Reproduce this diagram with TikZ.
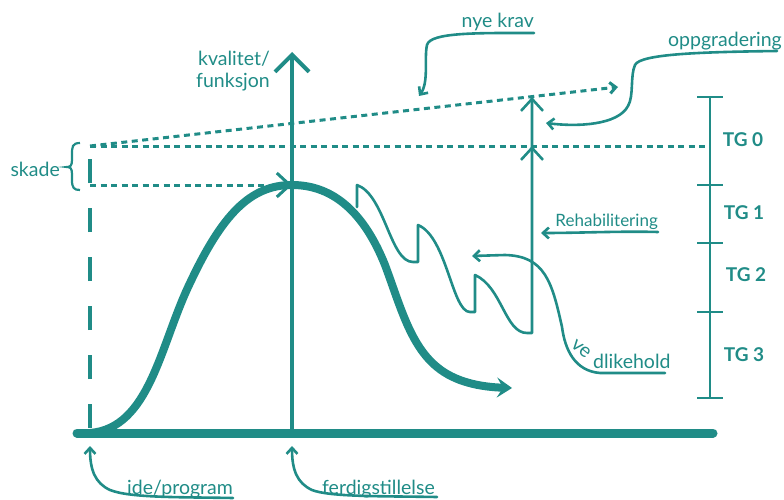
\documentclass[tikz,border=0pt]{standalone}
\usepackage{fontspec}
\setmainfont{Lato}
\usetikzlibrary{arrows.meta}
\definecolor{teal}{RGB}{32,140,135}
\tikzset{
  lbl/.style={text=teal, font=\fontsize{19.5}{22}\selectfont, inner sep=0pt},
  tglbl/.style={text=teal, font=\fontsize{19}{22}\selectfont\bfseries, inner sep=0pt},
  thin/.style={draw=teal, line width=2.6pt, line cap=round, line join=round},
  dots/.style={draw=teal, line width=3pt, dash pattern=on 6pt off 4.5pt},
  smallbarb/.style={-{Straight Barb[length=6pt,width=11pt]}},
}
\begin{document}
\begin{tikzpicture}[x=1pt,y=-1pt]
\useasboundingbox (0,0) rectangle (784,500);

% key points
\coordinate (origin) at (90,433);
\coordinate (peak) at (292,185);
\coordinate (damage) at (90,146);
\coordinate (top) at (532,97);
\coordinate (mid) at (532,146);

% time axis and quality axis
\draw[teal, line width=9pt, line cap=round] (77,433) -- (713,433);
\draw[teal, line width=4pt, -{Straight Barb[length=17pt,width=34pt]}] (292,433) -- (292,52);

% dashed start line
\draw[teal, line width=4.5pt, dash pattern=on 24pt off 25pt, dash phase=-5pt] (origin) -- (90,135);

% dotted reference lines
\draw[dots] (damage) -- (710,146);
\draw[dots, -{Straight Barb[length=6pt,width=11pt]}] (damage) -- (618,87);
\draw[dots, -{Straight Barb[length=13pt,width=24pt]}] (90,185) -- (peak);

% skade brace
\draw[teal, line width=2.2pt] (80,143) .. controls (72,143) and (72,147) .. (72,155)
  -- (72,160) .. controls (72,166) and (70,167) .. (67,167)
  .. controls (70,167) and (72,168) .. (72,174) -- (72,180)
  .. controls (72,188) and (74,190) .. (80,190);
\node[lbl, anchor=east] (skade) at (60,169) {skade};

% life curve of the building
\draw[teal, line width=8pt, line cap=round,
  -{Stealth[length=15pt,width=20pt,inset=6pt]}]
  (origin) .. controls (150,428) and (160,345) .. (190,283)
  .. controls (222,215) and (250,185) .. (peak)
  .. controls (335,185) and (365,215) .. (385,265)
  .. controls (400,305) and (410,345) .. (437,367)
  .. controls (455,382) and (480,387) .. (512,388);

% maintenance sawtooth and rehabilitation jump
\draw[thin] (357,207) -- (357,185)
  .. controls (385,195) and (390,262) .. (413,262) -- (418,262) -- (418,225)
  .. controls (447,237) and (452,312) .. (470,312) -- (475,312) -- (475,275)
  .. controls (502,287) and (505,333) .. (527,333) -- (532,333) -- (top);
\draw[thin, -{Straight Barb[length=12pt,width=22pt]}] (532,180) -- (mid);
\draw[thin, -{Straight Barb[length=12pt,width=22pt]}] (532,130) -- (top);

% condition grade scale
\draw[thin, line cap=butt] (710,97) -- (710,398);
\foreach \y in {97,185,243,312,398}
  \draw[thin, line cap=butt] (697,\y) -- (723,\y);
\node[tglbl] (tg0) at (743,140) {TG 0};
\node[tglbl] (tg1) at (744,213) {TG 1};
\node[tglbl] (tg2) at (746,275) {TG 2};
\node[tglbl] (tg3) at (744,355) {TG 3};

% axis label
\node[lbl, anchor=east, align=right] (kval) at (270,71) {kvalitet/\\funksjon};

% nye krav
\node[lbl, anchor=base east] (nye) at (534,28) {nye krav};
\draw[thin, smallbarb] (534,33) .. controls (480,33) and (430,32) .. (427,45)
  .. controls (424,58) and (429,82) .. (419,96);

% oppgradering
\node[lbl, anchor=base east] (oppg) at (782,47) {oppgradering};
\draw[thin, smallbarb] (777,51) .. controls (700,52) and (640,54) .. (635,65)
  .. controls (630,76) and (634,96) .. (628,106)
  .. controls (618,125) and (578,127) .. (546,123);

% Rehabilitering
\node[lbl, anchor=base east, font=\fontsize{17}{20}\selectfont] (rehab) at (658,226) {Rehabilitering};
\draw[thin, smallbarb] (658,232) .. controls (620,231) and (580,233) .. (541,233);

% vedlikehold, the first letters bent round the corner of the line
\draw[thin, smallbarb] (665,373) -- (600,373)
  .. controls (575,371) and (565,350) .. (562,327)
  .. controls (552,282) and (545,256) .. (505,255) -- (472,256);
\node[lbl, rotate=-40] (ve) at (581,349) {ve};
\node[lbl, anchor=base west] (dlik) at (593,368) {dlikehold};

% ide/program
\node[lbl, anchor=base west] (ide) at (127,494) {ide/program};
\draw[thin, smallbarb] (233,498) .. controls (180,497) and (130,498) .. (110,490)
  .. controls (95,483) and (90,470) .. (90,446);

% ferdigstillelse
\node[lbl, anchor=base west] (ferdig) at (322,494) {ferdigstillelse};
\draw[thin, smallbarb] (437,497) .. controls (380,496) and (330,497) .. (312,490)
  .. controls (297,483) and (292,470) .. (292,446);
\end{tikzpicture}
\end{document}
